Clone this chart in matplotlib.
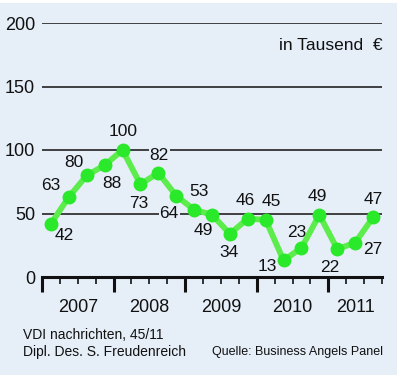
import matplotlib
matplotlib.use("Agg")
import matplotlib.pyplot as plt
import matplotlib.transforms as mtransforms
from matplotlib.patches import Rectangle

plt.rcParams['font.family'] = ['Liberation Sans', 'DejaVu Sans']

# quarterly values, 2007 Q1 .. 2011 Q3
values = [42, 63, 80, 88, 100, 73, 82, 64, 53, 49, 34, 46, 45, 13, 23, 49, 22, 27, 47]
years = ['2007', '2008', '2009', '2010', '2011']
yticks = [0, 50, 100, 150, 200]

# label offsets in pixels (dx, dy)
offsets = [(13, -12), (-18, 11), (-13, 13), (7, -18), (1, 18), (-2, -19), (1, 17),
           (-7, -18), (5, 18), (-9, -16), (-1, -19), (-3, 18), (6, 18), (-16, -6),
           (-5, 15), (-2, 18), (-8, -18), (18, -7), (0, 18)]

bg = '#e6eef8'
green_line = '#5cec4c'
green_dot = '#2ae82a'

fig = plt.figure(figsize=(4.0, 3.78), dpi=100)
fig.patch.set_facecolor('white')
fig.patches.append(Rectangle((0, 3 / 378), 397 / 400, 372 / 378, transform=fig.transFigure,
                             facecolor=bg, edgecolor='none', zorder=-5))

ax = fig.add_axes([42 / 400, 101 / 378, 340 / 400, 254 / 378])
ax.set_facecolor('none')
ax.set_xlim(0, 19)
ax.set_ylim(0, 200)

for s in ['top', 'right', 'left']:
    ax.spines[s].set_visible(False)
ax.spines['bottom'].set_linewidth(2.2)
ax.spines['bottom'].set_color('#111111')

ax.set_yticks(yticks)
ax.set_yticklabels([str(v) for v in yticks], fontsize=13, color='#111111')
ax.tick_params(axis='y', length=0, pad=5)
ax.yaxis.grid(True, color='#222222', linewidth=1.2)
ax.set_axisbelow(True)

ax.set_xticks(range(0, 20, 4))
ax.set_xticks(range(0, 20), minor=True)
ax.set_xticklabels([])
ax.tick_params(axis='x', which='major', length=11, width=2.2, color='#111111', direction='out')
ax.tick_params(axis='x', which='minor', length=5, width=1.2, color='#111111', direction='out')

xs = [i + 0.5 for i in range(len(values))]
ax.plot(xs, values, color=green_line, linewidth=4.2, zorder=3, clip_on=False)
ax.plot(xs, values, linestyle='none', marker='o', markersize=9,
        markerfacecolor=green_dot, markeredgecolor=green_dot, zorder=4, clip_on=False)

for x, v, (dx, dy) in zip(xs, values, offsets):
    ax.annotate(str(v), (x, v), xytext=(dx, dy), textcoords='offset pixels',
                ha='center', va='center', fontsize=12.5, color='#111111', zorder=2.5,
                bbox=dict(boxstyle='square,pad=0.05', facecolor=bg, edgecolor='none'))

trans = mtransforms.blended_transform_factory(ax.transData, ax.transAxes)
for i, y in enumerate(years):
    end = min(4 * i + 4, 19)
    ax.text((4 * i + end) / 2, -30 / 254, y, transform=trans, ha='center', va='center',
            fontsize=13, color='#111111')

fig.text(383 / 400, 1 - 45 / 378, 'in Tausend  \u20ac', ha='right',
         va='center', fontsize=12.5, color='#111111')
fig.text(23 / 400, 1 - 335 / 378, 'VDI nachrichten, 45/11', ha='left', va='center',
         fontsize=10, color='#111111')
fig.text(23 / 400, 1 - 352 / 378, 'Dipl. Des. S. Freudenreich', ha='left', va='center',
         fontsize=10, color='#111111')
fig.text(383 / 400, 1 - 352 / 378, 'Quelle: Business Angels Panel', ha='right', va='center',
         fontsize=9, color='#111111')

fig.savefig('out.png', dpi=100, facecolor=fig.get_facecolor())
